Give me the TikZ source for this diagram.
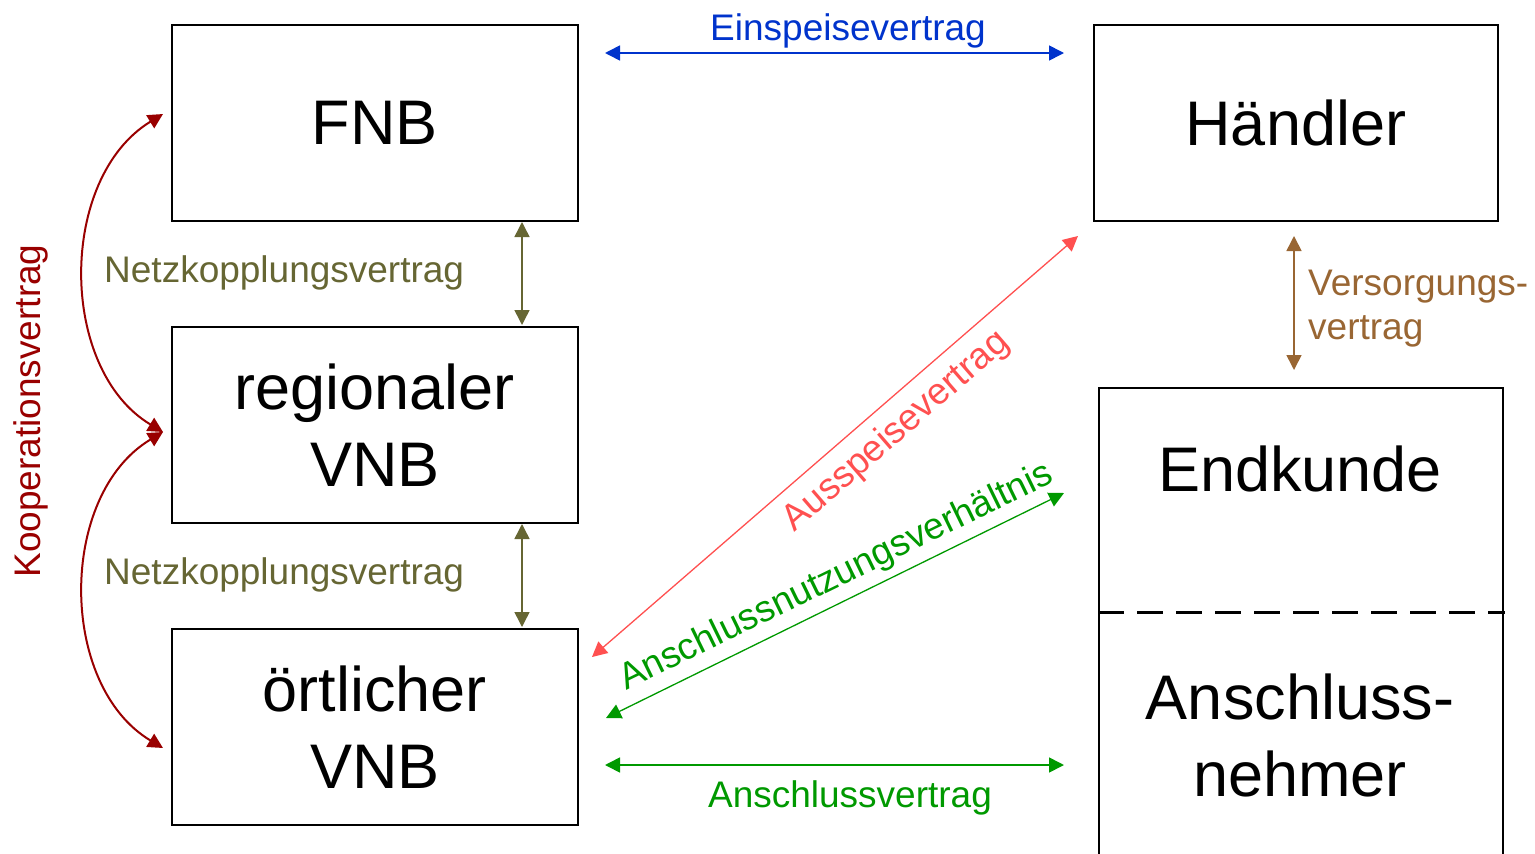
\documentclass[tikz,border=0pt]{standalone}
\usepackage{fontspec}
\setmainfont{Liberation Sans}
\usetikzlibrary{arrows.meta}
\definecolor{cBlue}{HTML}{0033CC}
\definecolor{cOlive}{HTML}{666633}
\definecolor{cDarkRed}{HTML}{990000}
\definecolor{cBrown}{HTML}{996633}
\definecolor{cRed}{HTML}{FF5050}
\definecolor{cGreen}{HTML}{009900}
\begin{document}
\begin{tikzpicture}[x=1pt,y=-1pt,
  party/.style={draw=black, line width=1.6pt, minimum width=406pt, minimum height=196pt,
    inner sep=0pt, align=center, font=\fontsize{63}{77}\selectfont, anchor=north west},
  big/.style={font=\fontsize{63}{77}\selectfont, inner sep=0pt, align=center},
  lbl/.style={font=\fontsize{37}{44}\selectfont, inner sep=0pt},
  dbl/.style={arrows={Triangle[length=15pt,width=15pt]-Triangle[length=15pt,width=15pt]}},
  link/.style={dbl, line width=1.6pt},
  thinlink/.style={dbl, line width=1.3pt},
]
\useasboundingbox (0,0) rectangle (1535,854);
\clip (0,0) rectangle (1535,854);

% parties
\node[party] (fnb)  at (171,24)  {FNB};
\node[party] (rvnb) at (171,326) {regionaler\\VNB};
\node[party] (ovnb) at (171,628) {örtlicher\\VNB};
\node[party, minimum width=404pt] (hdl) at (1093,24) {Händler};

% end customer / connection owner (box runs off the lower edge)
\node[draw=black, line width=1.6pt, minimum width=404pt, minimum height=490pt,
      inner sep=0pt, anchor=north west] (ek) at (1098,387) {};
\node[big] (ekname) at (1300,469) {Endkunde};
\node[big] (anname) at (1300,735) {Anschluss-\\nehmer};
\coordinate (sepL) at (1098,612);
\coordinate (sepR) at (1505,612);
\draw[black, line width=3pt, dash pattern=on 26pt off 13pt] (sepL) -- (sepR);

% Einspeisevertrag
\coordinate (einL) at (605,53);
\coordinate (einR) at (1064,53);
\draw[cBlue, link] (einL) -- (einR);
\node[lbl, text=cBlue, anchor=base] (einlbl) at (848,40) {Einspeisevertrag};

% Netzkopplungsverträge
\coordinate (nkA1) at (522,222);
\coordinate (nkA2) at (522,325);
\coordinate (nkB1) at (522,524);
\coordinate (nkB2) at (522,627);
\draw[cOlive, link, line width=1.5pt] (nkA1) -- (nkA2);
\draw[cOlive, link, line width=1.5pt] (nkB1) -- (nkB2);
\node[lbl, text=cOlive, anchor=base west] (nklblA) at (104,282) {Netzkopplungsvertrag};
\node[lbl, text=cOlive, anchor=base west] (nklblB) at (104,584) {Netzkopplungsvertrag};

% Kooperationsvertrag
\coordinate (koT) at (163,114);
\coordinate (koM) at (163,432);
\coordinate (koB) at (163,748);
\draw[cDarkRed, link, line width=2pt] (koT) .. controls (58,178) and (58,369) .. (koM);
\draw[cDarkRed, link, line width=2pt] (koM) .. controls (58,495) and (58,685) .. (koB);
\node[lbl, text=cDarkRed, rotate=90, anchor=base] (kolbl) at (40,411) {Kooperationsvertrag};

% Versorgungsvertrag
\coordinate (vsT) at (1294,236);
\coordinate (vsB) at (1294,370);
\draw[cBrown, link] (vsT) -- (vsB);
\node[lbl, text=cBrown, align=left, anchor=north west] (vslbl) at (1308,270) {Versorgungs-\\vertrag};

% Ausspeisevertrag
\coordinate (auL) at (592,657);
\coordinate (auR) at (1078,236);
\draw[cRed, thinlink] (auL) -- (auR);
\node[lbl, text=cRed, rotate=40.9, anchor=base] (aulbl) at (903,439) {Ausspeisevertrag};

% Anschlussnutzungsverhältnis
\coordinate (anL) at (606,718);
\coordinate (anR) at (1064,493);
\draw[cGreen, thinlink] (anL) -- (anR);
\node[lbl, text=cGreen, rotate=26, anchor=base] (anlbl) at (841,586) {Anschlussnutzungsverhältnis};

% Anschlussvertrag
\coordinate (avL) at (605,765);
\coordinate (avR) at (1064,765);
\draw[cGreen, link] (avL) -- (avR);
\node[lbl, text=cGreen, anchor=base] (avlbl) at (850,807) {Anschlussvertrag};
\end{tikzpicture}
\end{document}
